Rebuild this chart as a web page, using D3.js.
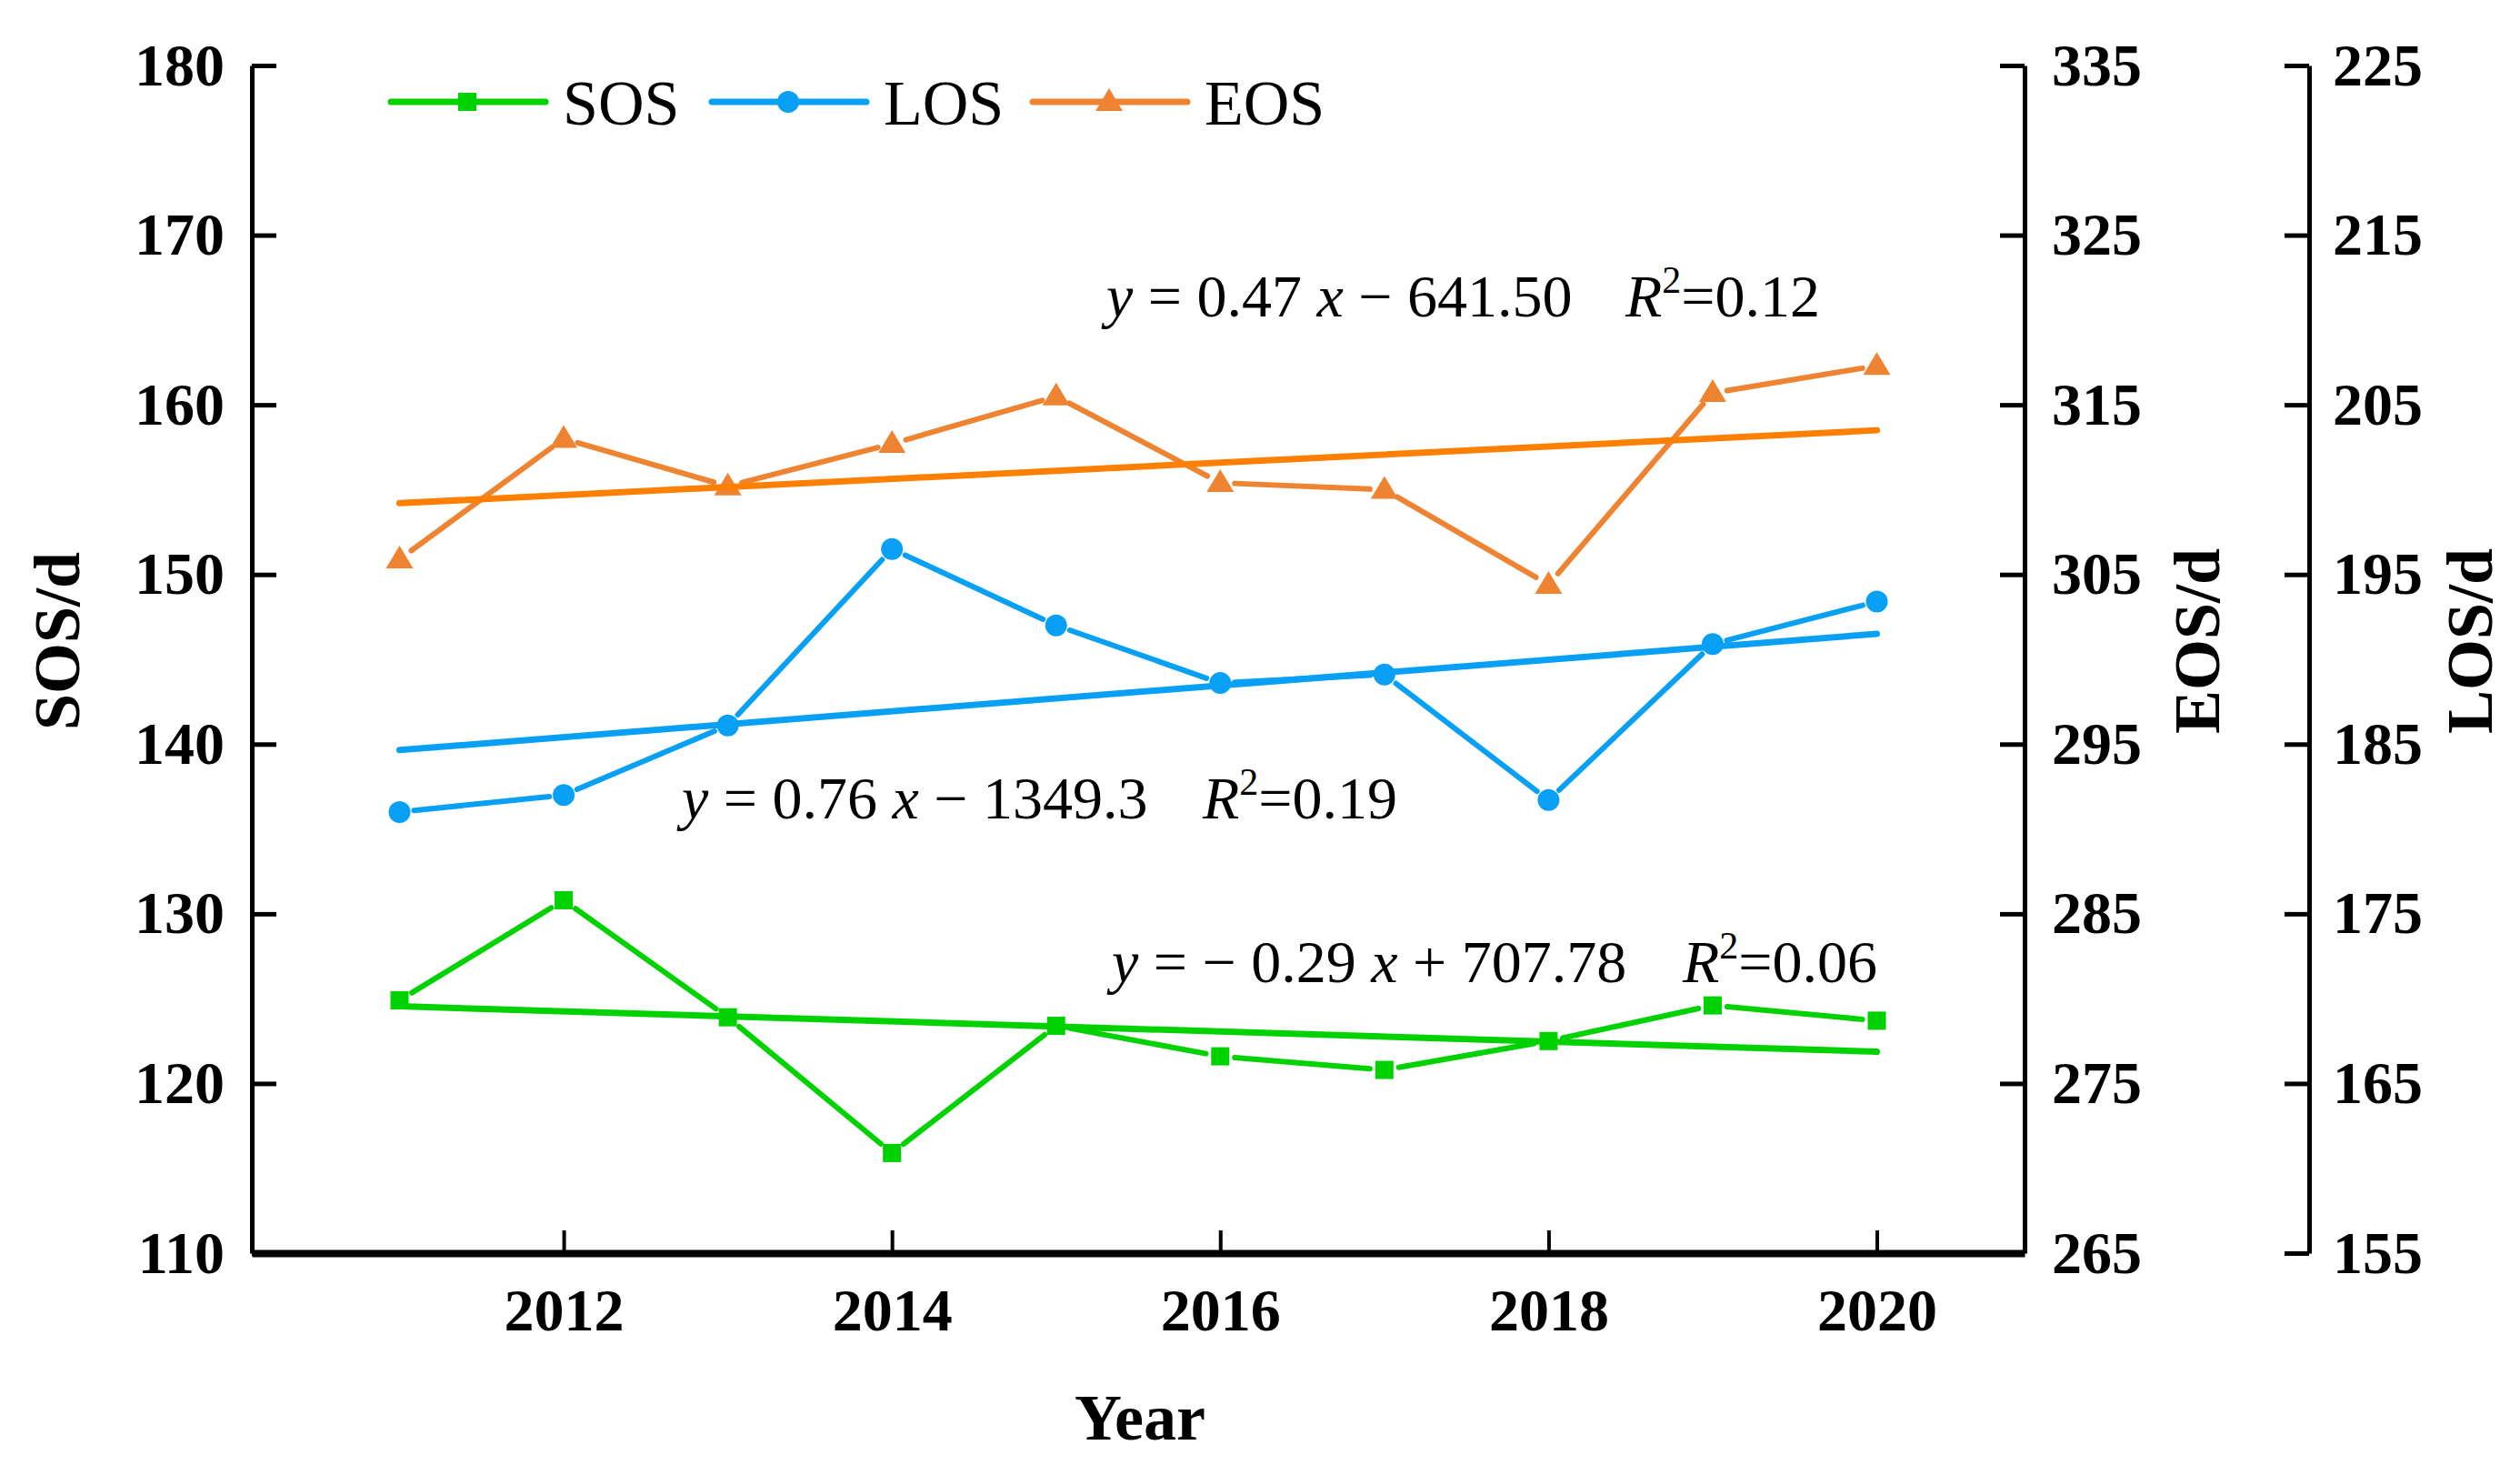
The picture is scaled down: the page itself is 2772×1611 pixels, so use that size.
<!DOCTYPE html>
<html>
<head>
<meta charset="utf-8">
<script src="https://cdn.jsdelivr.net/npm/d3@7"></script>
<style>
  body { margin: 0; background: #fff; }
  text { font-family: "Liberation Serif", "Times New Roman", serif; }
</style>
</head>
<body>
<script>
var years = [2011, 2012, 2013, 2014, 2015, 2016, 2017, 2018, 2019, 2020];
var sosValues = [124.9, 130.8, 123.9, 115.9, 123.4, 121.6, 120.8, 122.5, 124.6, 123.7];
var losValues = [181.0, 182.0, 186.1, 196.5, 192.0, 188.6, 189.1, 181.7, 190.9, 193.4];
var eosValues = [305.9, 313.0, 310.2, 312.7, 315.5, 310.4, 310.0, 304.4, 315.7, 317.3];

// fitted lines, values read at 2011 and 2020
var trendYears = [2011, 2020];
var sosTrend = [124.55, 121.87];
var losTrend = [184.65, 191.5];
var eosTrend = [309.2, 313.5];

var xTicks = [2012, 2014, 2016, 2018, 2020];
var sosTicks = [110, 120, 130, 140, 150, 160, 170, 180];
var eosTicks = [265, 275, 285, 295, 305, 315, 325, 335];
var losTicks = [155, 165, 175, 185, 195, 205, 215, 225];

var W = 2772, H = 1611;
var plotLeft = 277, plotRight = 2227, plotTop = 72, plotBottom = 1378, losX = 2540;

var svg = d3.select("body").append("svg")
  .attr("width", W)
  .attr("height", H);

var x = d3.scaleLinear().domain([2010.1, 2020.9]).range([plotLeft, plotRight]);
var ySOS = d3.scaleLinear().domain([110, 180]).range([plotBottom, plotTop]);
var yEOS = d3.scaleLinear().domain([265, 335]).range([plotBottom, plotTop]);
var yLOS = d3.scaleLinear().domain([155, 225]).range([plotBottom, plotTop]);

// axes
function styleAxis(g, domainW, tickW) {
  g.select(".domain").attr("stroke", "#000").attr("stroke-width", domainW);
  g.selectAll(".tick line").attr("stroke", "#000").attr("stroke-width", tickW);
  g.selectAll(".tick text")
    .attr("fill", "#000")
    .style("font-size", "66px")
    .style("font-weight", "bold");
}

var gx = svg.append("g")
  .attr("transform", "translate(0," + plotBottom + ")")
  .call(d3.axisBottom(x).tickValues(xTicks).tickFormat(d3.format("d"))
    .tickSizeInner(-25).tickSizeOuter(0).tickPadding(38));
styleAxis(gx, 8, 4);

var gl = svg.append("g")
  .attr("transform", "translate(" + plotLeft + ",0)")
  .call(d3.axisLeft(ySOS).tickValues(sosTicks).tickSizeInner(-27).tickSizeOuter(0).tickPadding(30));
styleAxis(gl, 5, 5);

var ge = svg.append("g")
  .attr("transform", "translate(" + plotRight + ",0)")
  .call(d3.axisRight(yEOS).tickValues(eosTicks).tickSizeInner(-27).tickSizeOuter(0).tickPadding(30));
styleAxis(ge, 5, 5);

var gL = svg.append("g")
  .attr("transform", "translate(" + losX + ",0)")
  .call(d3.axisRight(yLOS).tickValues(losTicks).tickSizeInner(-27).tickSizeOuter(0).tickPadding(26));
styleAxis(gL, 5, 5);

// axis titles
function yTitle(txt, bx) {
  svg.append("text")
    .attr("transform", "translate(" + bx + ",705) rotate(-90)")
    .attr("text-anchor", "middle")
    .style("font-size", "72px")
    .style("font-weight", "bold")
    .text(txt);
}
yTitle("SOS/d", 87);
yTitle("EOS/d", 2441);
yTitle("LOS/d", 2741);

svg.append("text")
  .attr("x", 1254).attr("y", 1583)
  .attr("text-anchor", "middle")
  .style("font-size", "72px")
  .style("font-weight", "bold")
  .text("Year");

var series = [
  { name: "SOS", vals: sosValues, trend: sosTrend, y: ySOS, color: "#00d200", trendColor: "#00d200", shape: "square" },
  { name: "LOS", vals: losValues, trend: losTrend, y: yLOS, color: "#08a0f5", trendColor: "#08a0f5", shape: "circle" },
  { name: "EOS", vals: eosValues, trend: eosTrend, y: yEOS, color: "#ee8332", trendColor: "#ff8000", shape: "triangle" }
];

function marker(g, shape, cx, cy, color) {
  if (shape === "square") {
    g.append("rect").attr("x", cx - 10).attr("y", cy - 10).attr("width", 20).attr("height", 20).attr("fill", color);
  } else if (shape === "circle") {
    g.append("circle").attr("cx", cx).attr("cy", cy).attr("r", 12).attr("fill", color);
  } else {
    g.append("path")
      .attr("d", "M" + cx + "," + (cy - 15) + "L" + (cx + 15) + "," + (cy + 10) + "L" + (cx - 15) + "," + (cy + 10) + "Z")
      .attr("fill", color);
  }
}

var gap = 16; // gap between line and symbol

series.forEach(function (s) {
  var g = svg.append("g");
  var pts = years.map(function (yr, i) { return [x(yr), s.y(s.vals[i])]; });
  // data line, cut short near symbols
  for (var i = 0; i < pts.length - 1; i++) {
    var p = pts[i], q = pts[i + 1];
    var dx = q[0] - p[0], dy = q[1] - p[1], len = Math.sqrt(dx * dx + dy * dy);
    var ux = dx / len, uy = dy / len;
    g.append("line")
      .attr("x1", p[0] + ux * gap).attr("y1", p[1] + uy * gap)
      .attr("x2", q[0] - ux * gap).attr("y2", q[1] - uy * gap)
      .attr("stroke", s.color)
      .attr("stroke-width", 6)
      .attr("stroke-linecap", "round");
  }
  pts.forEach(function (p) { marker(g, s.shape, p[0], p[1], s.color); });
  // trend line
  g.append("line")
    .attr("x1", x(trendYears[0])).attr("y1", s.y(s.trend[0]))
    .attr("x2", x(trendYears[1])).attr("y2", s.y(s.trend[1]))
    .attr("stroke", s.trendColor)
    .attr("stroke-width", 7)
    .attr("stroke-linecap", "round");
});

// legend
var lg = svg.append("g");
series.forEach(function (s, i) {
  var x0 = 430 + i * 353;
  lg.append("line")
    .attr("x1", x0).attr("y1", 112).attr("x2", x0 + 170).attr("y2", 112)
    .attr("stroke", s.color).attr("stroke-width", 7).attr("stroke-linecap", "round");
  marker(lg, s.shape, x0 + 84, 112, s.color);
  lg.append("text")
    .attr("x", x0 + 189).attr("y", 137)
    .style("font-size", "70px")
    .text(s.name);
});

// equations
function equation(xs, ys, coef, rx, r2) {
  var t = svg.append("text").attr("x", xs).attr("y", ys).style("font-size", "66px").style("white-space", "pre");
  t.append("tspan").style("font-style", "italic").text("y");
  t.append("tspan").text(" = " + coef[0] + " ");
  t.append("tspan").style("font-style", "italic").text("x");
  t.append("tspan").text(" " + coef[1]);
  var r = svg.append("text").attr("x", rx).attr("y", ys).style("font-size", "66px");
  r.append("tspan").style("font-style", "italic").text("R");
  r.append("tspan").attr("dy", -26).style("font-size", "42px").text("2");
  r.append("tspan").attr("dy", 26).text("=" + r2);
}
equation(1217, 348, ["0.47", "\u2212 641.50"], 1788, "0.12");
equation(750, 900, ["0.76", "\u2212 1349.3"], 1323, "0.19");
equation(1223, 1080, ["\u2212 0.29", "+ 707.78"], 1851, "0.06");
</script>
</body>
</html>
